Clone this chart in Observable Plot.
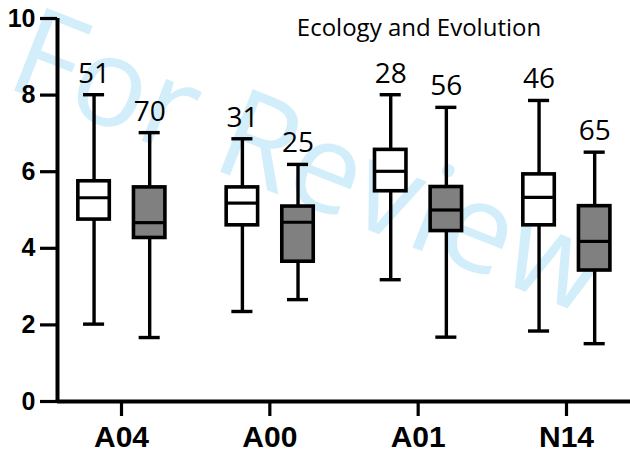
<!DOCTYPE html>
<html>
<head>
<meta charset="utf-8">
<script src="https://cdn.jsdelivr.net/npm/d3@7"></script>
<script src="https://cdn.jsdelivr.net/npm/@observablehq/plot@0.6"></script>
<style>
  html, body { margin: 0; padding: 0; background: #fff; }
  #chart svg { display: block; }
</style>
</head>
<body>
<div id="chart"></div>
<script>
// Categories
const groups = ["A04", "A00", "A01", "N14"];
const seriesNames = ["open", "filled"];
const yTicks = [0, 2, 4, 6, 8, 10];
const title = "Ecology and Evolution";
const watermark = "For Review Only";

// Open (white) boxes
const openLow    = [2.02, 2.35, 3.18, 1.84];
const openQ1     = [4.75, 4.60, 5.49, 4.60];
const openMedian = [5.32, 5.18, 6.01, 5.33];
const openQ3     = [5.75, 5.59, 6.57, 5.93];
const openHigh   = [8.01, 6.86, 8.01, 7.86];
const openN      = [51, 31, 28, 46];

// Filled (grey) boxes
const filledLow    = [1.67, 2.66, 1.68, 1.51];
const filledQ1     = [4.27, 3.65, 4.45, 3.42];
const filledMedian = [4.67, 4.68, 5.00, 4.18];
const filledQ3     = [5.59, 5.09, 5.60, 5.10];
const filledHigh   = [7.02, 6.19, 7.68, 6.51];
const filledN      = [70, 25, 56, 65];

const offsets = {open: -0.185, filled: 0.19};
const boxHalf = 0.106;
const capHalf = 0.071;

const rows = [];
groups.forEach((g, i) => {
  rows.push({i, s: "open", x: i + offsets.open, lo: openLow[i], q1: openQ1[i], med: openMedian[i], q3: openQ3[i], hi: openHigh[i], n: openN[i]});
  rows.push({i, s: "filled", x: i + offsets.filled, lo: filledLow[i], q1: filledQ1[i], med: filledMedian[i], q3: filledQ3[i], hi: filledHigh[i], n: filledN[i]});
});

const sw = 3.4;
const plot = Plot.plot({
  width: 630,
  height: 449,
  marginLeft: 57,
  marginRight: 0,
  marginTop: 18,
  marginBottom: 48,
  style: {background: "transparent", overflow: "visible"},
  x: {domain: [-0.4315, 3.4315], axis: null},
  y: {domain: [0, 10], axis: null},
  color: {domain: seriesNames, range: ["#ffffff", "#808080"]},
  marks: [
    // whiskers
    Plot.ruleX(rows, {x: "x", y1: "lo", y2: "hi", stroke: "black", strokeWidth: sw}),
    Plot.ruleY(rows, {y: "hi", x1: d => d.x - capHalf, x2: d => d.x + capHalf, stroke: "black", strokeWidth: sw}),
    Plot.ruleY(rows, {y: "lo", x1: d => d.x - capHalf, x2: d => d.x + capHalf, stroke: "black", strokeWidth: sw}),
    // boxes
    Plot.rect(rows, {x1: d => d.x - boxHalf, x2: d => d.x + boxHalf, y1: "q1", y2: "q3", fill: "s", stroke: "black", strokeWidth: 3.6}),
    Plot.ruleY(rows, {y: "med", x1: d => d.x - boxHalf, x2: d => d.x + boxHalf, stroke: "black", strokeWidth: 3.2}),
    // counts
    Plot.text(rows, {x: "x", y: "hi", text: d => String(d.n), dy: -12, lineAnchor: "bottom", fontSize: 28, fontFamily: "Open Sans", fill: "black"}),
    // axes
    Plot.ruleX([-0.4315], {y1: 0, y2: 10, stroke: "black", strokeWidth: 4}),
    Plot.ruleY([0], {stroke: "black", strokeWidth: 4}),
    Plot.axisY({ticks: yTicks, label: null, tickSize: 17, tickPadding: 5, strokeWidth: 3.2, fontSize: 25, fontWeight: "bold", fontFamily: "Liberation Sans", color: "black"}),
    Plot.axisX({ticks: d3.range(groups.length), label: null, tickFormat: i => groups[i], tickSize: 15, tickPadding: 9, strokeWidth: 3.2, fontSize: 30, fontWeight: "bold", fontFamily: "Liberation Sans", color: "black"}),
    // title
    Plot.text([title], {frameAnchor: "top", dx: 75, dy: 17, lineAnchor: "bottom", fontSize: 24, fontFamily: "Open Sans", fill: "black"})
  ]
});

// watermark behind everything
const svg = d3.select(plot);
svg.insert("text", ":first-child")
  .attr("transform", "translate(3,86) rotate(21.5)")
  .attr("text-anchor", "start")
  .attr("font-family", "Open Sans")
  .attr("font-size", 124)
  .attr("fill", "#d2eefb")
  .text(watermark);

document.getElementById("chart").appendChild(plot);
</script>
</body>
</html>
